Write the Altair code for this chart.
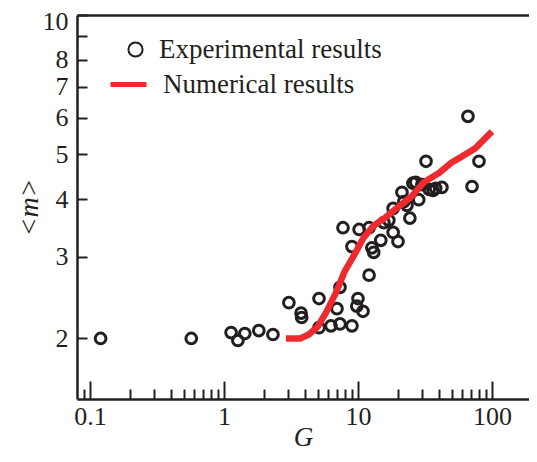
import altair as alt
import pandas as pd

# Experimental results (open circles)
G_exp = [0.12, 0.57, 1.13, 1.27, 1.43, 1.82, 2.32, 3.05, 3.76, 3.8,
         5.12, 6.97, 5.12, 6.29, 7.34, 9.02, 7.34, 10.0, 9.8, 10.9,
         12.1, 7.73, 9.02, 10.2, 12.1, 12.7, 13.1, 14.8, 15.6, 17.0,
         18.3, 19.9, 18.3, 21.3, 23.2, 24.4, 28.4, 25.7, 36.3, 42.3,
         71.0, 66.2, 32.2, 80.0, 34.0, 38.0, 30.0, 27.0, 22.0]
m_exp = [2.0, 2.0, 2.06, 1.98, 2.05, 2.08, 2.04, 2.39, 2.27, 2.22,
         2.44, 2.32, 2.11, 2.13, 2.15, 2.13, 2.58, 2.44, 2.35, 2.29,
         2.74, 3.47, 3.16, 3.44, 3.47, 3.14, 3.07, 3.26, 3.56, 3.6,
         3.39, 3.24, 3.82, 4.14, 3.88, 3.64, 3.99, 4.33, 4.18, 4.24,
         4.26, 6.04, 4.83, 4.83, 4.2, 4.22, 4.3, 4.35, 3.95]

# Numerical results (red line)
G_num = [2.9, 3.7, 4.3, 5.0, 5.8, 6.8, 8.0, 9.5, 11.0, 13.0,
         16.0, 20.0, 25.0, 31.0, 40.0, 50.0, 60.0, 75.0, 100.0]
m_num = [2.0, 2.0, 2.04, 2.12, 2.28, 2.5, 2.8, 3.05, 3.3, 3.5,
         3.65, 3.85, 4.05, 4.35, 4.55, 4.8, 4.95, 5.15, 5.6]

x_major = [0.1, 1, 10, 100]
x_minor = [0.09, 0.2, 0.3, 0.4, 0.5, 0.6, 0.7, 0.8, 0.9,
           2, 3, 4, 5, 6, 7, 8, 9, 20, 30, 40, 50, 60, 70, 80, 90]
y_labels = [2, 3, 4, 5, 6, 7, 8]
y_top_label = [10]
y_ticks = [2, 3, 4, 5, 6, 7, 8, 9, 10]

INK = "#231f20"
RED = "#ee2a2f"
F = "Liberation Serif"
FS = 26

exp_df = pd.DataFrame({"G": G_exp, "m": m_exp, "s1": "Experimental results"})
num_df = pd.DataFrame({"G": G_num, "m": m_num, "s2": "Numerical results"})

xs = alt.Scale(type="log", domain=[0.08, 189], nice=False)
ys = alt.Scale(type="log", domain=[1.48, 10], nice=False)

ax_x_labels = alt.Axis(orient="bottom", values=x_major, format="~g", ticks=False, tickSize=0,
                       domain=True, domainWidth=2.5, domainColor=INK, grid=False,
                       labelFont=F, labelFontSize=FS, labelColor=INK, labelPadding=4,
                       labelFlush=False, labelOverlap=False,
                       title="G", titleFont=F, titleFontSize=27, titleFontStyle="italic",
                       titleFontWeight="normal", titleColor=INK,
                       titleY=38, titleBaseline="middle")
ax_x_major = alt.Axis(orient="bottom", values=x_major, labels=False, domain=False, grid=False,
                      ticks=True, tickSize=18, tickWidth=2, tickColor=INK, offset=-18, title=None)
ax_x_minor = alt.Axis(orient="bottom", values=x_minor, labels=False, domain=False, grid=False,
                      ticks=True, tickSize=10, tickWidth=2, tickColor=INK, offset=-10, title=None)
ax_x_top = alt.Axis(orient="top", labels=False, ticks=False, domain=True, domainWidth=2.5,
                    domainColor=INK, grid=False, title=None)

ax_y_labels = alt.Axis(orient="left", values=y_labels, format="~g", ticks=False, tickSize=0,
                       domain=True, domainWidth=2.5, domainColor=INK, grid=False,
                       labelFont=F, labelFontSize=FS, labelColor=INK, labelPadding=9,
                       labelFlush=False, labelOverlap=False,
                       title="<m>", titleFont=F, titleFontSize=28, titleFontStyle="italic",
                       titleFontWeight="normal", titleColor=INK, titlePadding=12)
ax_y_top = alt.Axis(orient="left", values=y_top_label, format="~g", ticks=False, tickSize=0,
                    domain=False, grid=False, labelFont=F, labelFontSize=FS, labelColor=INK,
                    labelPadding=9, labelFlush=False, labelOverlap=False, labelOffset=6, title=None)
ax_y_ticks = alt.Axis(orient="left", values=y_ticks, labels=False, domain=False, grid=False,
                      ticks=True, tickSize=10, tickWidth=2, tickColor=INK, offset=-10, title=None)

pts = alt.Chart(exp_df).mark_point(filled=False, size=115, strokeWidth=3, color=INK, opacity=1).encode(
    x=alt.X("G:Q", scale=xs, axis=ax_x_labels),
    y=alt.Y("m:Q", scale=ys, axis=ax_y_labels),
    shape=alt.Shape("s1:N", scale=alt.Scale(domain=["Experimental results"], range=["circle"]),
                    legend=alt.Legend(orient="none", legendX=45, legendY=21, title=None, padding=0,
                                      labelFont=F, labelFontSize=27, labelColor=INK, labelOffset=10,
                                      labelLimit=400,
                                      symbolSize=200, symbolStrokeWidth=2, symbolStrokeColor=INK)),
)

line = alt.Chart(num_df).mark_line(strokeWidth=6.5, strokeCap="butt", strokeJoin="round").encode(
    x=alt.X("G:Q", scale=xs, axis=ax_x_major),
    y=alt.Y("m:Q", scale=ys, axis=ax_y_ticks),
    color=alt.Color("s2:N", scale=alt.Scale(domain=["Numerical results"], range=[RED]),
                    legend=alt.Legend(orient="none", legendX=31, legendY=49, title=None, padding=0,
                                      labelFont=F, labelFontSize=27, labelColor=INK, labelOffset=14,
                                      labelLimit=400,
                                      symbolType="stroke", symbolSize=1296, symbolStrokeWidth=5)),
)

minor = alt.Chart(exp_df).mark_point(opacity=0).encode(
    x=alt.X("G:Q", scale=xs, axis=ax_x_minor),
    y=alt.Y("m:Q", scale=ys, axis=ax_y_top),
)
top = alt.Chart(exp_df).mark_point(opacity=0).encode(
    x=alt.X("G:Q", scale=xs, axis=ax_x_top),
    y=alt.Y("m:Q", scale=ys, axis=None),
)

chart = alt.layer(minor, top, pts, line).resolve_axis(
    x="independent", y="independent"
).properties(
    width=452, height=384,
    autosize=alt.AutoSizeParams(type="none"),
    padding={"left": 69, "top": 7, "right": 0, "bottom": 53},
).configure_view(stroke=None)

chart.save("out.html", embed_options={"renderer": "svg", "actions": False})
